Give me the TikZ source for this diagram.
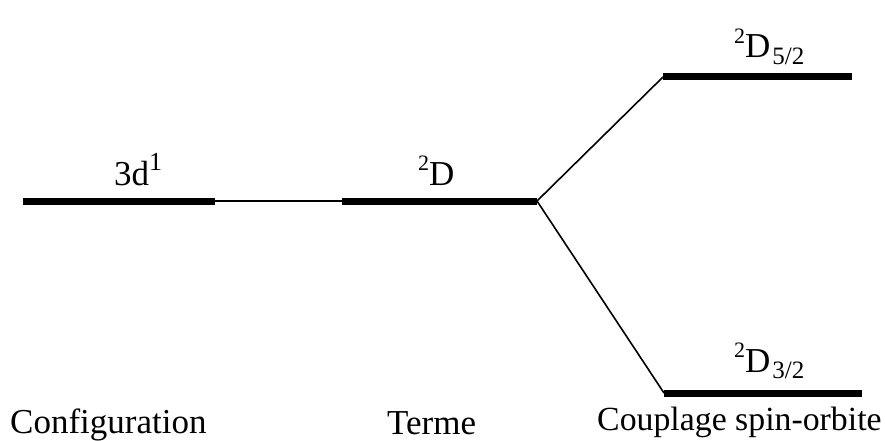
\documentclass[tikz,border=0pt]{standalone}
\usepackage{fontspec}
\setmainfont{Liberation Serif}
\tikzset{
  level/.style={line width=7pt},
  link/.style={line width=1.6pt},
  toplabel/.style={anchor=base west, inner sep=0pt, font=\fontsize{35}{42}\selectfont},
  botlabel/.style={anchor=base west, inner sep=0pt, font=\fontsize{35}{42}\selectfont},
}
\newcommand{\supnum}[2][22]{\raisebox{0.42em}{\fontsize{#1}{#1}\selectfont #2}}
\newcommand{\subnum}[1]{\raisebox{-0.18em}{\fontsize{25}{25}\selectfont #1}}
\begin{document}
\begin{tikzpicture}[x=1pt,y=-1pt]
  \useasboundingbox (0,0) rectangle (885,441);
  % energy levels
  \coordinate (c1) at (23,201);  \coordinate (c2) at (215,201);
  \coordinate (t1) at (342,201); \coordinate (t2) at (537,201);
  \coordinate (u1) at (663,77);  \coordinate (u2) at (852,77);
  \coordinate (l1) at (664,393); \coordinate (l2) at (862,393);
  \draw[level] (c1) -- (c2);
  \draw[level] (t1) -- (t2);
  \draw[level] (u1) -- (u2);
  \draw[level] (l1) -- (l2);
  % connections between levels
  \draw[link] (c2) -- (t1);
  \draw[link] (t2) -- (u1);
  \draw[link] (t2) -- (l1);
  % level labels
  \node[toplabel] (lc) at (114,185) {3d\supnum[26]{1}};
  \node[toplabel] (lt) at (418,185) {\supnum{2}D};
  \node[toplabel] (lu) at (734,58) {\supnum{2}D\hspace{2pt}\subnum{5/2}};
  \node[toplabel] (ll) at (734,372) {\supnum{2}D\hspace{2pt}\subnum{3/2}};
  % column titles
  \node[botlabel] (n1) at (10,433) {Configuration};
  \node[botlabel] (n2) at (387,434) {Terme};
  \node[botlabel, font=\fontsize{33.8}{40}\selectfont] (n3) at (597,430) {Couplage spin-orbite};
\end{tikzpicture}
\end{document}
